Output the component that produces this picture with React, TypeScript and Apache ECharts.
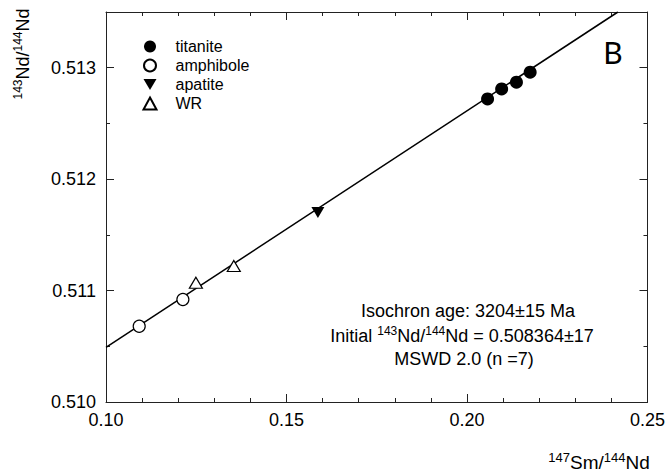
import React, { useEffect, useRef } from "react";
import * as echarts from "echarts";

// ---- data ----
const titaniteX = [0.2057, 0.2096, 0.2137, 0.2175];
const titaniteY = [0.51272, 0.51281, 0.51287, 0.51296];
const amphiboleX = [0.1092, 0.1213];
const amphiboleY = [0.51068, 0.51092];
const apatiteX = [0.1587];
const apatiteY = [0.5117];
const wrX = [0.1249, 0.1354];
const wrY = [0.51107, 0.51122];
// isochron regression line end points
const isochronX = [0.1, 0.2418];
const isochronY = [0.51049, 0.5135];

const xRange = [0.1, 0.25];
const yRange = [0.51, 0.5135];
const legendNames = ["titanite", "amphibole", "apatite", "WR"];
const annotationLines = [
  "{n|Isochron age: 3204±15 Ma}",
  "{n|Initial }{sup|143}{n|Nd/}{sup|144}{n|Nd = 0.508364±17}",
  "{n|MSWD 2.0 (n =7)}",
];
const panelLetter = "B";

const FONT = "'Liberation Sans', Arial, sans-serif";
const DOWN_TRIANGLE = "path://M0,0L12,0L6,10Z";

const zip = (xs: number[], ys: number[]) => xs.map((x, i) => [x, ys[i]]);

export default function App() {
  const ref = useRef<HTMLDivElement>(null);
  useEffect(() => {
    if (!ref.current) return;
    const chart = echarts.init(ref.current, undefined, { renderer: "svg" });
    const axisLine = { show: true, onZero: false, lineStyle: { color: "#222", width: 1 } };
    const baseX = {
      type: "value",
      min: xRange[0],
      max: xRange[1],
      interval: 0.05,
      splitLine: { show: false },
      axisLine,
      axisTick: { show: true, inside: true, length: 8, lineStyle: { color: "#222" } },
      minorTick: { show: true, splitNumber: 5, length: 4, lineStyle: { color: "#222" } },
    };
    const yMajor = {
      type: "value",
      min: yRange[0],
      max: yRange[1],
      interval: 0.001,
      splitLine: { show: false },
      axisLine,
      axisTick: { show: true, inside: true, length: 8, lineStyle: { color: "#222" } },
    };
    const yMinor = {
      type: "value",
      min: yRange[0],
      max: yRange[1],
      interval: 0.0005,
      splitLine: { show: false },
      axisLine: { show: false },
      axisLabel: { show: false },
      axisTick: { show: true, inside: true, length: 4, lineStyle: { color: "#222" } },
    };
    const supRich = {
      sup: { fontSize: 12, fontFamily: FONT, fill: "#000", verticalAlign: "bottom", padding: [0, 0, 8, 0] },
      n: { fontSize: 18, fontFamily: FONT, fill: "#000", verticalAlign: "bottom" },
    };
    chart.setOption({
      animation: false,
      backgroundColor: "#fff",
      grid: { left: 106, right: 18, top: 12, bottom: 70 },
      xAxis: [
        {
          ...baseX,
          position: "bottom",
          axisLabel: {
            show: true,
            fontSize: 18,
            fontFamily: FONT,
            color: "#000",
            margin: 9,
            formatter: (v: number) => v.toFixed(2),
          },
        },
        { ...baseX, position: "top", axisLabel: { show: false } },
      ],
      yAxis: [
        {
          ...yMajor,
          position: "left",
          axisLabel: {
            show: true,
            fontSize: 18,
            fontFamily: FONT,
            color: "#000",
            margin: 10,
            showMaxLabel: false,
            formatter: (v: number) => v.toFixed(3),
          },
        },
        { ...yMinor, position: "left" },
        { ...yMajor, position: "right", axisLabel: { show: false } },
        { ...yMinor, position: "right" },
      ],
      legend: {
        orient: "vertical",
        left: 137.5,
        top: 32,
        itemWidth: 13,
        itemHeight: 12,
        itemGap: 0,
        selectedMode: false,
        data: legendNames,
        textStyle: {
          fontSize: 16,
          lineHeight: 19,
          fontFamily: FONT,
          color: "#000",
          padding: [0, 0, 0, 14],
        },
      },
      series: [
        {
          name: "isochron",
          type: "line",
          data: zip(isochronX, isochronY),
          symbol: "none",
          lineStyle: { color: "#000", width: 1.5 },
          z: 1,
          silent: true,
        },
        {
          name: legendNames[0],
          type: "scatter",
          data: zip(titaniteX, titaniteY),
          symbol: "circle",
          symbolSize: 13,
          itemStyle: { color: "#000", opacity: 1 },
          z: 3,
        },
        {
          name: legendNames[1],
          type: "scatter",
          data: zip(amphiboleX, amphiboleY),
          symbol: "circle",
          symbolSize: 12,
          itemStyle: { color: "#fff", borderColor: "#000", borderWidth: 1.2, opacity: 1 },
          z: 3,
        },
        {
          name: legendNames[2],
          type: "scatter",
          data: zip(apatiteX, apatiteY),
          symbol: DOWN_TRIANGLE,
          symbolSize: [13, 11],
          itemStyle: { color: "#000", opacity: 1 },
          z: 3,
        },
        {
          name: legendNames[3],
          type: "scatter",
          data: zip(wrX, wrY),
          symbol: "triangle",
          symbolSize: [13, 11],
          itemStyle: { color: "#fff", borderColor: "#000", borderWidth: 1.2, opacity: 1 },
          z: 3,
        },
      ],
      graphic: [
        {
          type: "text",
          x: 22,
          y: 54,
          rotation: Math.PI / 2,
          style: {
            text: "{sup|143}{n|Nd/}{sup|144}{n|Nd}",
            rich: supRich,
            align: "center",
            verticalAlign: "middle",
          },
        },
        {
          type: "text",
          x: 599,
          y: 461,
          style: {
            text: "{sup|147}{n|Sm/}{sup|144}{n|Nd}",
            rich: {
              sup: { ...supRich.sup, fontSize: 13 },
              n: { ...supRich.n, fontSize: 19 },
            },
            align: "center",
            verticalAlign: "middle",
          },
        },
        {
          type: "text",
          x: 613,
          y: 52,
          style: {
            text: panelLetter,
            fontSize: 30,
            fontFamily: "Lato, 'Open Sans', sans-serif",
            fill: "#000",
            align: "center",
            verticalAlign: "middle",
          },
        },
        ...annotationLines.map((t, i) => ({
          type: "text",
          x: [468, 462, 464][i],
          y: 311 + i * 24,
          style: {
            text: t,
            rich: supRich,
            align: "center",
            verticalAlign: "middle",
          },
        })),
      ],
    });
    return () => chart.dispose();
  }, []);
  return (
    <div
      ref={ref}
      style={{ position: "fixed", left: 0, top: 0, width: 668, height: 472, background: "#fff" }}
    />
  );
}
